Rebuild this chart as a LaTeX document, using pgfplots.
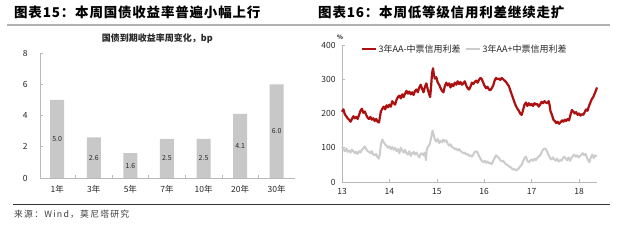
\documentclass[border=0pt]{standalone}
\usepackage{fontspec}
\setmainfont{Noto Sans CJK SC}
\newfontfamily\headfont{Noto Sans CJK SC}[LetterSpace=6]
\newfontfamily\footfont{Noto Sans CJK SC}[LetterSpace=14]
\usepackage{pgfplots}
\pgfplotsset{compat=1.18}
\usepackage{pgfplotstable}
\definecolor{redline}{RGB}{172,16,16}
\definecolor{grayline}{RGB}{204,204,204}
\definecolor{bargray}{RGB}{200,200,200}
\definecolor{axisgray}{RGB}{185,185,185}
\definecolor{txt}{RGB}{40,40,40}

\pgfplotstableread{
x y
0 5.0
1 2.6
2 1.6
3 2.5
4 2.5
5 4.1
6 6.0
}\bonds

\pgfplotstableread{
x y
13.00 205
13.03 212
13.06 198
13.09 192
13.12 186
13.15 182
13.18 176
13.21 184
13.24 192
13.27 186
13.30 190
13.33 184
13.36 196
13.39 208
13.42 214
13.45 202
13.48 206
13.51 196
13.54 188
13.57 184
13.60 190
13.63 182
13.66 186
13.69 178
13.72 184
13.75 176
13.78 174
13.80 190
13.82 206
13.85 214
13.88 220
13.91 212
13.94 224
13.97 218
14.00 226
14.03 220
14.06 236
14.09 230
14.12 226
14.15 240
14.18 248
14.21 252
14.24 244
14.27 256
14.30 248
14.33 258
14.36 266
14.39 258
14.42 264
14.45 256
14.48 262
14.51 254
14.54 266
14.57 270
14.60 262
14.63 276
14.66 284
14.69 272
14.72 262
14.75 278
14.78 288
14.81 270
14.84 256
14.86 248
14.88 280
14.90 318
14.92 332
14.94 312
14.96 302
14.99 306
15.02 290
15.05 284
15.08 274
15.11 266
15.14 262
15.17 280
15.20 290
15.23 282
15.26 288
15.29 276
15.32 286
15.35 280
15.38 290
15.41 284
15.44 294
15.47 286
15.50 292
15.53 284
15.56 288
15.59 294
15.62 282
15.65 274
15.68 270
15.71 278
15.74 290
15.77 286
15.80 292
15.83 296
15.86 290
15.89 298
15.92 304
15.95 300
15.98 290
16.01 280
16.04 274
16.07 278
16.10 270
16.13 268
16.16 274
16.19 282
16.22 296
16.25 304
16.28 300
16.31 302
16.34 298
16.37 304
16.40 300
16.43 296
16.46 292
16.49 286
16.52 280
16.55 268
16.58 256
16.61 244
16.64 232
16.67 222
16.70 214
16.73 208
16.76 200
16.79 196
16.82 210
16.85 226
16.88 232
16.91 222
16.94 230
16.97 224
17.00 228
17.03 222
17.06 230
17.09 226
17.12 228
17.15 220
17.18 226
17.21 234
17.24 230
17.27 236
17.30 232
17.33 230
17.36 236
17.38 224
17.40 206
17.43 196
17.46 182
17.49 178
17.52 172
17.55 176
17.58 170
17.61 174
17.64 180
17.67 176
17.70 182
17.73 178
17.76 184
17.79 180
17.82 196
17.85 210
17.88 206
17.91 200
17.94 204
17.97 196
18.00 200
18.03 194
18.06 198
18.09 196
18.12 204
18.15 212
18.18 208
18.21 222
18.24 232
18.27 242
18.30 248
18.33 258
18.36 268
18.38 276
}\aaminus

\pgfplotstableread{
x y
13.00 103
13.03 96
13.06 90
13.09 98
13.12 88
13.15 92
13.18 86
13.21 94
13.24 90
13.27 84
13.30 88
13.33 82
13.36 90
13.39 86
13.42 94
13.45 98
13.48 104
13.51 96
13.54 90
13.57 88
13.60 84
13.63 90
13.66 80
13.69 78
13.72 82
13.75 72
13.78 68
13.80 84
13.82 110
13.85 124
13.88 116
13.91 110
13.94 106
13.97 100
14.00 104
14.03 96
14.06 102
14.09 94
14.12 100
14.15 90
14.18 96
14.21 84
14.24 100
14.27 92
14.30 86
14.33 94
14.36 84
14.39 80
14.42 90
14.45 76
14.48 84
14.51 88
14.54 80
14.57 86
14.60 78
14.63 72
14.66 82
14.69 84
14.72 78
14.75 86
14.77 64
14.79 96
14.82 104
14.85 110
14.88 128
14.91 150
14.93 140
14.96 124
14.99 118
15.02 126
15.05 114
15.08 120
15.11 116
15.14 124
15.17 118
15.20 122
15.23 112
15.26 106
15.29 110
15.32 102
15.35 100
15.38 96
15.41 98
15.44 92
15.47 96
15.50 90
15.53 88
15.56 84
15.59 86
15.62 80
15.65 82
15.68 76
15.71 78
15.74 74
15.77 80
15.80 88
15.83 90
15.86 86
15.89 76
15.92 68
15.95 62
15.98 58
16.01 62
16.04 56
16.07 60
16.10 54
16.13 56
16.16 52
16.19 62
16.22 70
16.25 78
16.28 74
16.31 70
16.34 64
16.37 60
16.40 62
16.43 56
16.46 52
16.49 50
16.52 46
16.55 44
16.58 40
16.61 36
16.64 38
16.67 34
16.70 36
16.73 40
16.76 46
16.79 50
16.82 60
16.85 70
16.88 74
16.91 62
16.94 58
16.97 62
17.00 66
17.03 62
17.06 68
17.09 64
17.12 70
17.15 74
17.18 78
17.21 86
17.24 94
17.27 98
17.30 96
17.33 88
17.36 78
17.39 70
17.42 66
17.45 72
17.48 66
17.51 62
17.54 68
17.57 60
17.60 64
17.63 62
17.66 70
17.69 74
17.72 68
17.75 64
17.78 72
17.81 62
17.84 70
17.87 76
17.90 80
17.93 74
17.96 78
17.99 72
18.02 76
18.05 80
18.08 84
18.11 78
18.14 82
18.17 70
18.20 62
18.22 58
18.25 72
18.28 80
18.31 70
18.34 78
18.37 74
}\aaplus

\begin{document}
\begin{tikzpicture}[x=1pt,y=1pt]
\fill[white] (0,0) rectangle (620,-242);
% headers
\node[anchor=west, inner sep=0pt, font=\headfont\fontsize{13.5}{15}\selectfont\bfseries, text=black] at (14,-12) {图表15：本周国债收益率普遍小幅上行};
\node[anchor=west, inner sep=0pt, font=\headfont\fontsize{13.5}{15}\selectfont\bfseries, text=black] at (318,-12) {图表16：本周低等级信用利差继续走扩};
\draw[gray!60, line width=1.6pt] (7,-25) -- (610,-25);
\draw[black!80, line width=1pt] (13,-204) -- (610,-204);
\node[anchor=west, inner sep=0pt, font=\footfont\fontsize{8.8}{10}\selectfont, text=black!75] at (14,-214) {来源：Wind，莫尼塔研究};

% left chart
\begin{axis}[
  at={(40pt,-178pt)}, anchor=south west,
  scale only axis, width=255pt, height=125pt,
  ymin=0, ymax=8, ytick={0,2,4,6,8},
  xmin=-0.47, xmax=6.5,
  xtick={0,1,2,3,4,5,6},
  xticklabels={1年,3年,5年,7年,10年,20年,30年},
  minor x tick num=1,
  major x tick style={draw=none},
  axis x line*=bottom, axis y line*=left,
  axis line style={axisgray, line width=0.8pt},
  tick style={axisgray, line width=0.6pt},
  tick align=inside, major tick length=3pt, minor tick length=3pt,
  /pgf/number format/assume math mode=true,
  ticklabel style={font=\fontsize{8.5}{10}\selectfont, text=txt},
  yticklabel style={xshift=-9pt},
  xticklabel style={yshift=-4pt},
  title={国债到期收益率周变化，bp},
  title style={font=\fontsize{9}{10}\selectfont\bfseries, text=txt, at={(0.46,1.07)}, anchor=center},
  clip=false,
]
\addplot[ybar, bar width=14pt, fill=bargray, draw=none] table[x=x, y=y] {\bonds};
\addplot[draw=none, mark=none, nodes near coords={\pgfmathprintnumber[fixed,fixed zerofill,precision=1]{\pgfplotspointmeta}},
  point meta=explicit,
  every node near coord/.append style={anchor=center, font=\fontsize{7}{8}\selectfont, text=txt}]
  table[x=x, y expr=\thisrow{y}/2, meta=y] {\bonds};
\end{axis}

% right chart
\begin{axis}[
  at={(342pt,-182pt)}, anchor=south west,
  scale only axis, width=255pt, height=137pt,
  xmin=13, xmax=18.38, ymin=0, ymax=400,
  xtick={13,14,15,16,17,18}, ytick={0,100,200,300,400},
  axis x line*=bottom, axis y line*=left,
  axis line style={axisgray, line width=0.8pt},
  tick style={axisgray, line width=0.6pt},
  tick align=inside, major tick length=3pt,
  /pgf/number format/assume math mode=true,
  ticklabel style={font=\fontsize{8.5}{10}\selectfont, text=txt},
  yticklabel style={xshift=-3pt},
  xticklabel style={yshift=-3pt},
  legend style={at={(0.06,1.035)}, anchor=north west, draw=none, fill=none,
    font=\fontsize{9}{10}\selectfont, text=txt, legend columns=2,
    /tikz/every even column/.append style={column sep=2pt}},
  legend image code/.code={\draw[#1] (0pt,0pt) -- (14pt,0pt);},
  clip=false,
]
\addplot[redline, line width=2.2pt, line join=round] table[x=x, y=y] {\aaminus};
\addlegendentry{3年AA-中票信用利差}
\addplot[grayline, line width=2pt, line join=round] table[x=x, y=y] {\aaplus};
\addlegendentry{3年AA+中票信用利差}
\end{axis}
\node[font=\fontsize{6}{7}\selectfont\bfseries, text=txt] at (340,-37) {\%};
\end{tikzpicture}
\end{document}
